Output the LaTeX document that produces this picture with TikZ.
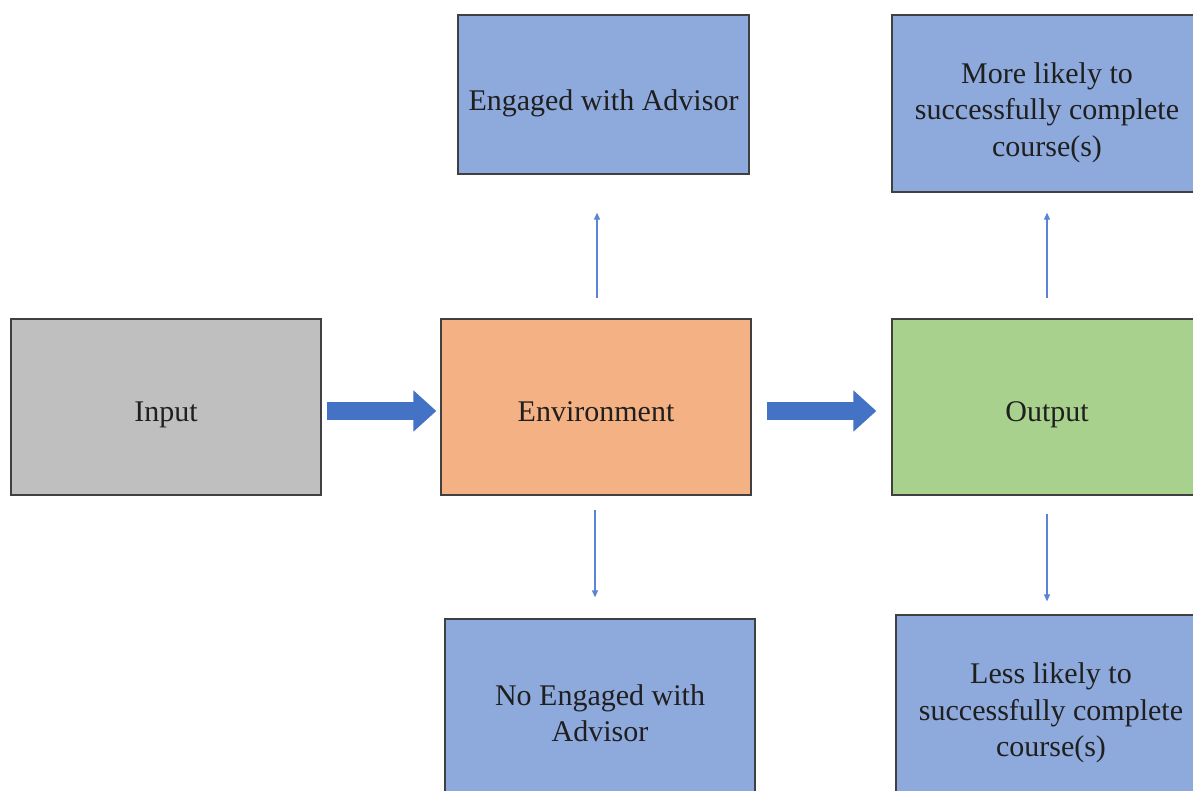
\documentclass[tikz,border=0pt]{standalone}
\usepackage{fontspec}
\setmainfont{Liberation Serif}
\usetikzlibrary{arrows.meta}
\definecolor{boxgray}{HTML}{BFBFBF}
\definecolor{boxorange}{HTML}{F4B183}
\definecolor{boxgreen}{HTML}{A9D18E}
\definecolor{boxblue}{HTML}{8EA9DB}
\definecolor{arrowblue}{HTML}{4472C4}
\definecolor{thinblue}{HTML}{5B83D6}
\tikzset{
  box/.style={draw=black!75, line width=1.3pt, minimum width=310pt, minimum height=176pt,
    inner sep=0pt},
  txt/.style={align=center, inner sep=0pt, text=black!88, font=\fontsize{30}{36.5}\selectfont},
  bigarrow/.style={line width=18pt, arrowblue, -{Triangle[length=23pt,width=40pt]}},
  thinarrow/.style={thinblue, line width=1.1pt, -{Triangle[length=7pt,width=6pt]}},
}
\begin{document}
\begin{tikzpicture}[x=1pt,y=-1pt]
\useasboundingbox (0,0) rectangle (1193,791);
\clip (0,0) rectangle (1193,791);
\node[box, fill=boxgray, label={[txt, yshift=-8pt]center:Input}] (input) at (166,407) {};
\node[box, fill=boxorange, label={[txt, yshift=-5pt]center:Environment}] (env) at (596,407) {};
\node[box, fill=boxgreen, label={[txt, yshift=-8pt]center:Output}] (out) at (1047,407) {};
\node[box, fill=boxblue, minimum width=291pt, minimum height=159pt,
  label={[txt, yshift=-9pt]center:Engaged with Advisor}] (eng) at (603.5,94.5) {};
\node[box, fill=boxblue, minimum height=177pt,
  label={[txt, yshift=-9pt]center:More likely to\\successfully complete\\course(s)}] (more) at (1047,103.5) {};
\node[box, fill=boxblue, minimum height=188pt,
  label={[txt, yshift=0pt]center:No Engaged with\\Advisor}] (noeng) at (600,713) {};
\node[box, fill=boxblue, minimum height=188pt,
  label={[txt, yshift=-4pt]center:Less likely to\\successfully complete\\course(s)}] (less) at (1051,709) {};
\draw[bigarrow, shorten <=5pt, shorten >=4pt] ([yshift=-4pt]input.east) -- ([yshift=-4pt]env.west);
\draw[bigarrow, shorten <=15pt, shorten >=15pt] ([yshift=-4pt]env.east) -- ([yshift=-4pt]out.west);
\coordinate (e1) at ([xshift=1pt]env.north);
\draw[thinarrow, shorten <=20pt, shorten >=38pt] (e1) -- (e1 |- eng.south);
\coordinate (e2) at ([xshift=-1pt]env.south);
\draw[thinarrow, shorten <=14pt, shorten >=21pt] (e2) -- (e2 |- noeng.north);
\draw[thinarrow, shorten <=20pt, shorten >=20pt] (out.north) -- (more.south);
\draw[thinarrow, shorten <=18pt, shorten >=13pt] (out.south) -- (out.south |- less.north);
\end{tikzpicture}
\end{document}
